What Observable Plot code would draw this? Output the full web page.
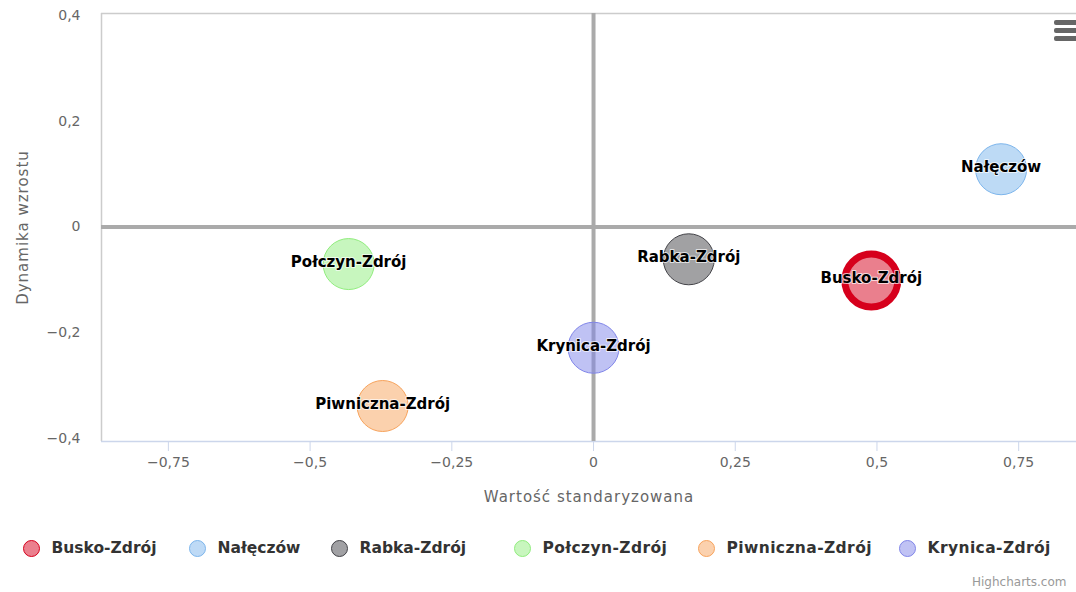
<!DOCTYPE html>
<html>
<head>
<meta charset="utf-8">
<script src="https://cdn.jsdelivr.net/npm/d3@7"></script>
<script src="https://cdn.jsdelivr.net/npm/@observablehq/plot@0.6"></script>
<style>
  html, body { margin: 0; padding: 0; background: #fff; overflow: hidden; }
  #wrap { position: relative; width: 1076px; height: 592px; font-family: "DejaVu Sans", sans-serif; }
  #legend { position: absolute; left: 0; top: 530px; width: 1076px; height: 36px; }
  .item { position: absolute; top: 0; height: 36px; display: flex; align-items: center; gap: 12px; font-size: 15.5px; font-weight: bold; color: #333; white-space: nowrap; }
  .sw { width: 17px; height: 17px; border-radius: 50%; box-sizing: border-box; border: 1px solid; }
  #credit { position: absolute; left: 972px; top: 575px; font-size: 12px; color: #999; white-space: nowrap; }
  #menu { position: absolute; left: 1054px; top: 20px; width: 26px; }
  #menu div { height: 5px; background: #666; border-radius: 2px; margin-bottom: 3px; }
  g[aria-label="x-axis label"] text, g[aria-label="y-axis label"] text { font-size: 15px; letter-spacing: 1px; }
</style>
</head>
<body>
<div id="wrap">
  <div id="chart"></div>
  <div id="legend"></div>
  <div id="credit">Highcharts.com</div>
  <div id="menu"><div></div><div></div><div></div></div>
</div>
<script>
// Data
const names = ["Busko-Zdrój", "Nałęczów", "Rabka-Zdrój", "Połczyn-Zdrój", "Piwniczna-Zdrój", "Krynica-Zdrój"];
const standardized = [0.490, 0.719, 0.168, -0.432, -0.372, 0.0];
const growth = [-0.101, 0.109, -0.061, -0.070, -0.338, -0.228];
const colors = ["#d6001c", "#7cb5ec", "#434348", "#90ed7d", "#f7a35c", "#8085e9"];
const xTicks = [-0.75, -0.5, -0.25, 0, 0.25, 0.5, 0.75];
const yTicks = [-0.4, -0.2, 0, 0.2, 0.4];

const rows = names.map((n, i) => ({name: n, x: standardized[i], y: growth[i], color: colors[i], hi: i === 0}));
const fmt = d => d === 0 ? "0" : String(d).replace(".", ",").replace("-", "\u2212");
const xDomain = [-0.868, 0.852];
const yDomain = [-0.405, 0.403];

const chart = Plot.plot({
  width: 1076,
  height: 515,
  marginTop: 13,
  marginLeft: 101,
  marginRight: 0,
  marginBottom: 74,
  style: {fontFamily: "DejaVu Sans, sans-serif", fontSize: "14px", color: "#666", background: "white"},
  x: {domain: xDomain},
  y: {domain: yDomain},
  marks: [
    Plot.ruleY([yDomain[1]], {stroke: "#ccc", strokeWidth: 1.5}),
    Plot.ruleX([xDomain[0]], {stroke: "#ccc", strokeWidth: 1.5}),
    Plot.ruleY([yDomain[0]], {stroke: "#ccd6eb", strokeWidth: 1.5}),
    Plot.axisX({ticks: xTicks, tickFormat: fmt, tickSize: 10, tickPadding: 6, stroke: "#ccd6eb", strokeOpacity: 1,
      label: "Wartość standaryzowana", labelAnchor: "center", labelArrow: "none", labelOffset: 60, fontSize: 14}),
    Plot.axisY({ticks: yTicks, tickFormat: fmt, tickSize: 0, tickPadding: 21,
      label: "Dynamika wzrostu", labelAnchor: "center", labelArrow: "none", labelOffset: 84, fontSize: 14}),
    Plot.ruleX([0], {stroke: "#aaa", strokeWidth: 4}),
    Plot.ruleY([0], {stroke: "#aaa", strokeWidth: 4}),
    Plot.dot(rows.filter(d => !d.hi), {x: "x", y: "y", r: 25.5, fill: d => d.color, fillOpacity: 0.5, stroke: d => d.color, strokeWidth: 1}),
    Plot.dot(rows.filter(d => d.hi), {x: "x", y: "y", r: 26.5, fill: d => d.color, fillOpacity: 0.5, stroke: d => d.color, strokeWidth: 7}),
    Plot.text(rows, {x: "x", y: "y", text: "name", dy: -2, fontSize: 15, fontWeight: "bold", fill: "#000", stroke: "white", strokeWidth: 2, strokeOpacity: 0.7})
  ]
});
document.getElementById("chart").appendChild(chart);

// Legend layout (item symbol centres, px)
const legendX = [31, 197, 339, 522, 706, 907];
const legend = document.getElementById("legend");
rows.forEach((d, i) => {
  const item = document.createElement("div");
  item.className = "item";
  item.style.left = (legendX[i] - 8.5) + "px";
  const sw = document.createElement("div");
  sw.className = "sw";
  sw.style.background = d3.interpolateRgb(d.color, "#fff")(0.5);
  sw.style.borderColor = d.color;
  const t = document.createElement("span");
  t.textContent = d.name;
  if (i >= 3) t.style.letterSpacing = "0.4px";
  item.appendChild(sw);
  item.appendChild(t);
  legend.appendChild(item);
});
</script>
</body>
</html>
